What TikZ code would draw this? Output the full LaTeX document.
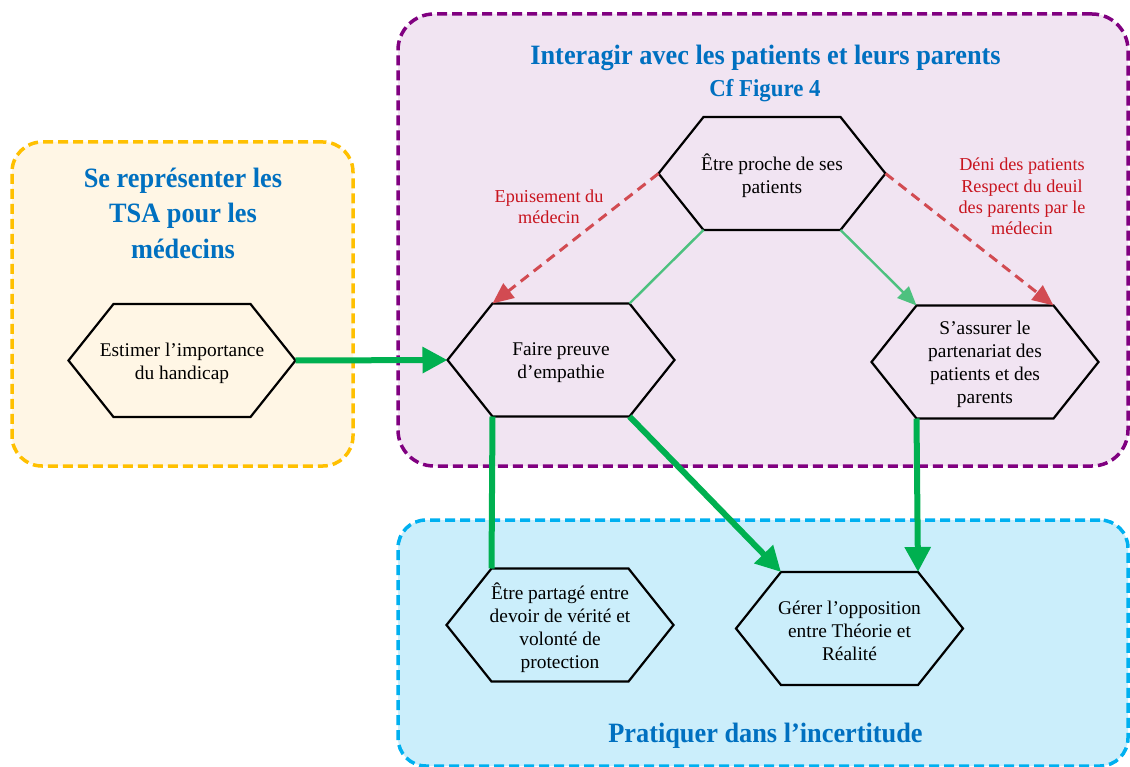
\documentclass[tikz,border=0pt]{standalone}
\usepackage{fontspec}
\setmainfont{Liberation Serif}
\newfontfamily\ttlfont[FakeStretch=0.94]{Liberation Serif}
\usetikzlibrary{arrows.meta}
\definecolor{yfill}{HTML}{FFF6E5}
\definecolor{yline}{HTML}{FFC000}
\definecolor{pfill}{HTML}{F1E4F2}
\definecolor{pline}{HTML}{800080}
\definecolor{bfill}{HTML}{CBEEFB}
\definecolor{bline}{HTML}{00B0F0}
\definecolor{tblue}{HTML}{0070C0}
\definecolor{gthick}{HTML}{00B050}
\definecolor{gthin}{HTML}{4DC17F}
\definecolor{rline}{HTML}{D24B52}
\definecolor{rtext}{HTML}{C8141E}
\tikzset{
  grp/.style={rectangle, line width=3.5pt, dash pattern=on 10pt off 5pt, rounded corners=#1, inner sep=0pt},
  hexline/.style={draw=black, line width=2.2pt, line join=miter},
  hextext/.style={align=center, font=\fontsize{19.4}{23}\selectfont, inner sep=0pt, yshift=-2.5pt},
  grptitle/.style={text=tblue, font=\ttlfont\bfseries\fontsize{28}{35.5}\selectfont, align=center, inner sep=0pt},
  subtitle/.style={text=tblue, font=\ttlfont\bfseries\fontsize{24.3}{28}\selectfont, align=center, inner sep=0pt},
  redlabel/.style={text=rtext, font=\fontsize{18.2}{21.3}\selectfont, align=center, inner sep=0pt, yshift=-2.5pt},
  thickarrow/.style={draw=gthick, line width=6pt, -{Triangle[length=25pt,width=25pt]}},
  thickline/.style={draw=gthick, line width=6pt},
  thinarrow/.style={draw=gthin, line width=2.4pt, -{Triangle[length=19pt,width=16pt]}},
  thinline/.style={draw=gthin, line width=2.4pt},
  redarrow/.style={draw=rline, line width=3pt, dash pattern=on 10pt off 6.5pt, -{Triangle[length=21pt,width=18pt]}},
}
\newcommand\mkhex[4]{%
  \path (#2,#3) coordinate (#1-c)
    +(-113.5,0) coordinate (#1-l)
    +(-68.5,-56.5) coordinate (#1-tl)
    +(68.5,-56.5) coordinate (#1-tr)
    +(113.5,0) coordinate (#1-r)
    +(68.5,56.5) coordinate (#1-br)
    +(-68.5,56.5) coordinate (#1-bl);
  \draw[hexline] (#1-l) -- (#1-tl) -- (#1-tr) -- (#1-r) -- (#1-br) -- (#1-bl) -- cycle;
  \node[hextext] (#1) at (#1-c) {#4};
}
\begin{document}
\begin{tikzpicture}[x=1pt,y=-1pt]
\useasboundingbox (0,0) rectangle (1130,767);
\fill[white] (0,0) rectangle (1130,767);
% group boxes
\node[grp=30pt, draw=yline, fill=yfill, minimum width=341pt, minimum height=324pt] (ybox) at (182.5,304) {};
\node[grp=36pt, draw=pline, fill=pfill, minimum width=730pt, minimum height=452pt] (pbox) at (763,240) {};
\node[grp=28pt, draw=bline, fill=bfill, minimum width=730pt, minimum height=246pt] (bbox) at (763,643) {};
% titles
\node[grptitle] (ytitle) at (183,213) {Se représenter les\\TSA pour les\\médecins};
\node[grptitle, anchor=base] (ptitle) at (765.5,64.3) {Interagir avec les patients et leurs parents};
\node[subtitle, anchor=base] (psub) at (765,96.7) {Cf Figure 4};
\node[grptitle, anchor=base] (btitle) at (765.5,742.3) {Pratiquer dans l’incertitude};
% hexagons
\mkhex{est}{182}{360.5}{Estimer l’importance\\du handicap}
\mkhex{emp}{561}{360}{Faire preuve\\d’empathie}
\mkhex{pro}{772}{173.5}{Être proche de ses\\patients}
\mkhex{par}{985}{362}{S’assurer le\\partenariat des\\patients et des\\parents}
\mkhex{ver}{560}{625}{Être partagé entre\\devoir de vérité et\\volonté de\\protection}
\mkhex{ger}{849.5}{628.5}{Gérer l’opposition\\entre Théorie et\\Réalité}
% red labels
\node[redlabel] (lab1) at (549,204) {Epuisement du\\médecin};
\node[redlabel] (lab2) at (1022,194) {Déni des patients\\Respect du deuil\\des parents par le\\médecin};
% connectors
\draw[thickarrow] (est-r) -- (emp-l);
\draw[thickline] (emp-bl) -- (ver-tl);
\draw[thickarrow] (emp-br) -- (ger-tl);
\draw[thickarrow] (par-bl) -- (ger-tr);
\draw[thinline] (pro-bl) -- (emp-tr);
\draw[thinarrow] (pro-br) -- (par-tl);
\draw[redarrow] (pro-l) -- (emp-tl);
\draw[redarrow] (pro-r) -- (par-tr);
\end{tikzpicture}
\end{document}
